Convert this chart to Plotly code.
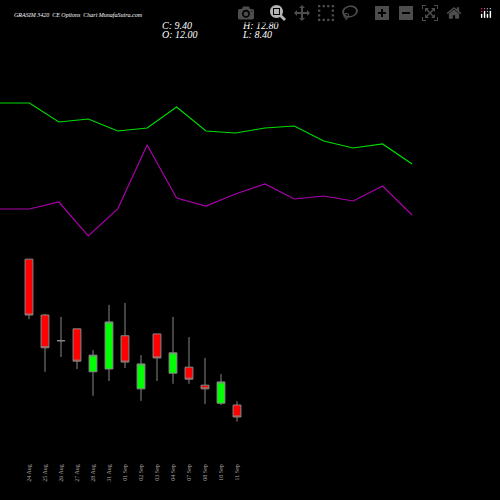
import plotly.graph_objects as go

dates = ["24 Aug","25 Aug","26 Aug","27 Aug","28 Aug","31 Aug","01 Sep","02 Sep",
         "03 Sep","04 Sep","07 Sep","08 Sep","10 Sep","11 Sep"]
opens  = [43.6, 31.5, 25.9, 28.5, 19.2, 19.8, 27.0, 15.5, 27.4, 18.9, 20.2, 16.3, 12.4, 12.0]
highs  = [43.6, 31.7, 31.1, 28.5, 23.9, 33.7, 34.1, 22.8, 27.4, 31.1, 26.7, 22.2, 18.7, 12.8]
lows   = [30.6, 19.2, 22.4, 19.8, 14.0, 17.2, 20.0, 12.9, 17.2, 16.6, 16.6, 12.2, 12.0, 8.4]
closes = [31.5, 24.4, 25.95, 21.5, 22.8, 30.0, 21.3, 20.9, 22.2, 23.3, 17.6, 15.5, 17.0, 9.4]

line_idx = list(range(15))
green_line = [397, 397, 378, 381, 369, 372, 393, 369, 367, 372, 374, 359, 352, 356, 336]
purple_line = [291, 291, 298, 264, 291, 355, 302, 294, 306, 316, 301, 304, 299, 314, 285]

fig = go.Figure()
fig.add_trace(go.Scatter(x=line_idx, y=green_line, mode="lines", xaxis="x2", yaxis="y2",
                         line=dict(color="#00dd00", width=1.2), hoverinfo="skip"))
fig.add_trace(go.Scatter(x=line_idx, y=purple_line, mode="lines", xaxis="x2", yaxis="y2",
                         line=dict(color="#aa00aa", width=1.2), hoverinfo="skip"))
fig.add_trace(go.Candlestick(x=list(range(len(dates))), open=opens, high=highs, low=lows, close=closes,
                             increasing=dict(line=dict(color="#888888", width=1), fillcolor="#00ff00"),
                             decreasing=dict(line=dict(color="#888888", width=1), fillcolor="#ff0000"),
                             whiskerwidth=0))

fig.update_layout(
    width=500, height=500, margin=dict(l=0, r=0, t=0, b=0),
    paper_bgcolor="black", plot_bgcolor="black", showlegend=False,
    xaxis=dict(range=[-29/16, 471/16], showgrid=False, zeroline=False, rangeslider=dict(visible=False),
               tickmode="array", tickvals=list(range(len(dates))), ticktext=dates, tickangle=-90,
               tickfont=dict(family="Liberation Serif", size=6, color="#aaaaaa"), ticks=""),
    yaxis=dict(domain=[0.076, 1], range=[-0.35, 99.76], visible=False),
    xaxis2=dict(overlaying="x", range=[0, 500/29.43], visible=False),
    yaxis2=dict(overlaying="y", range=[38, 500], visible=False),
    font=dict(family="Liberation Serif", color="white"),
)
ann = [
    (12, 15, "GRASIM 3420  CE Options  Chart MunafaSutra.com", 6),
    (160, 25, "C: 9.40", 10), (160, 34, "O: 12.00", 10),
    (240, 25, "H: 12.80", 10), (240, 34, "L: 8.40", 10),
]
for x, y, t, s in ann:
    fig.add_annotation(x=x/500, y=1-y/500, xref="paper", yref="paper", text="<i>"+t+"</i>",
                       showarrow=False, xanchor="left", yanchor="middle",
                       font=dict(size=s, color="white", family="Liberation Serif"))
fig.write_html("out.html",
               post_script="document.body.style.margin='0';document.body.style.background='black';")
